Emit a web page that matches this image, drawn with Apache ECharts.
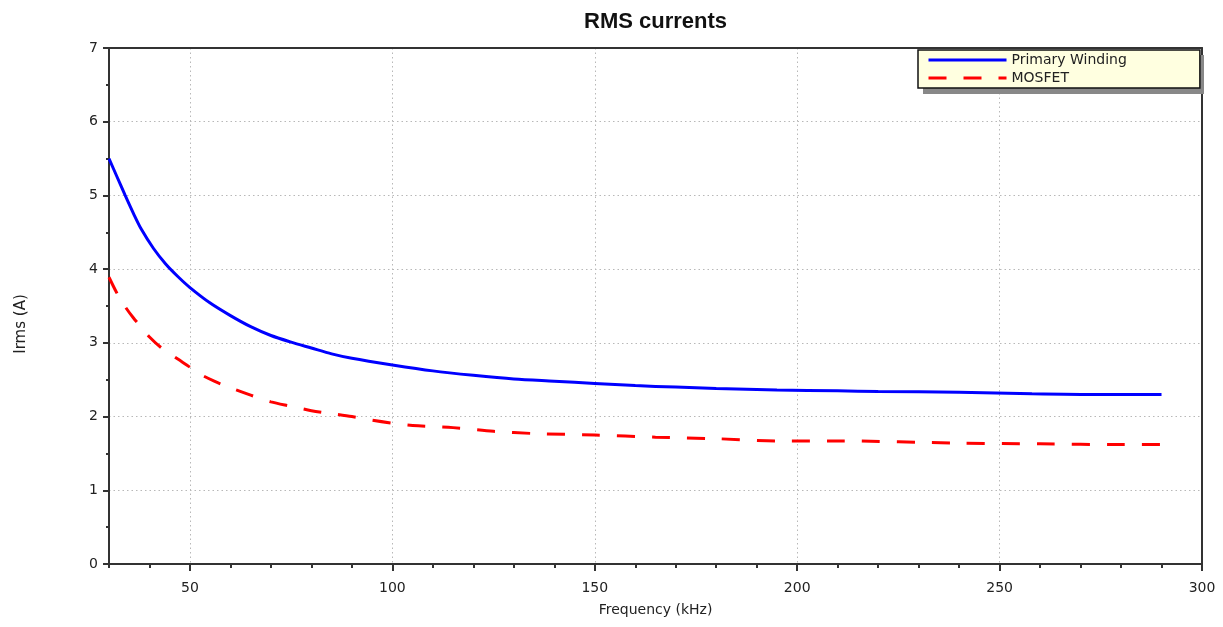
<!DOCTYPE html>
<html>
<head>
<meta charset="utf-8">
<script src="https://cdn.jsdelivr.net/npm/echarts@6/dist/echarts.min.js"></script>
<style>
html,body{margin:0;padding:0;background:#fff;}
#chart{width:1223px;height:627px;}
</style>
</head>
<body>
<div id="chart"></div>
<script>
const titleText = 'RMS currents';
const xName = 'Frequency (kHz)';
const yName = 'Irms (A)';
const xMajorTicks = [50, 100, 150, 200, 250, 300];

const primaryFreq = [30, 32, 34, 36, 38, 41, 44, 47, 50, 55, 60, 65, 70, 75, 80, 85, 90, 100, 110, 120, 130, 140, 150, 160, 170, 180, 195, 210, 220, 240, 258, 275, 290];
const primaryIrms = [5.50, 5.25, 5.00, 4.76, 4.54, 4.28, 4.07, 3.90, 3.75, 3.54, 3.37, 3.22, 3.10, 3.01, 2.93, 2.85, 2.79, 2.70, 2.62, 2.56, 2.51, 2.48, 2.45, 2.42, 2.40, 2.38, 2.36, 2.35, 2.34, 2.33, 2.31, 2.30, 2.30];

const mosfetFreq = [30, 32, 34, 36, 38, 40, 43, 47, 50, 52, 56, 60, 65, 70, 75, 80, 85, 90, 95, 100, 105, 115, 125, 135, 150, 165, 180, 195, 210, 240, 260, 280, 290];
const mosfetIrms = [3.89, 3.67, 3.49, 3.34, 3.21, 3.08, 2.93, 2.78, 2.67, 2.59, 2.48, 2.39, 2.29, 2.20, 2.14, 2.08, 2.04, 2.00, 1.95, 1.91, 1.88, 1.85, 1.80, 1.77, 1.75, 1.72, 1.70, 1.67, 1.67, 1.64, 1.63, 1.62, 1.62];

const pairs = (xs, ys) => xs.map((x, i) => [x, ys[i]]);

const axisColor = '#333';
const labelFont = 'DejaVu Sans';
const gridDots = { color: '#b8b8b8', width: 1, type: [1.5, 3] };

const chart = echarts.init(document.getElementById('chart'));
chart.setOption({
  animation: false,
  backgroundColor: '#ffffff',
  title: {
    text: titleText,
    left: 579,
    top: 6,
    textStyle: { fontFamily: 'Liberation Sans', fontWeight: 'bold', fontSize: 22, color: '#111' }
  },
  graphic: [
    {
      type: 'rect', left: 923, top: 55, z: 3, silent: true,
      shape: { width: 281, height: 39 },
      style: { fill: '#888' }
    }
  ],
  legend: {
    left: 918,
    top: 50,
    z: 4,
    orient: 'vertical',
    itemWidth: 78,
    itemHeight: 12,
    itemGap: 4,
    padding: [3, 73, 3, 9],
    backgroundColor: '#ffffe0',
    borderColor: '#111',
    borderWidth: 1.5,
    borderRadius: 0,
    lineStyle: { width: 3 },
    itemStyle: { color: 'transparent', borderColor: 'transparent', borderWidth: 0, opacity: 0 },
    textStyle: { fontFamily: labelFont, fontSize: 14, color: '#222' },
    data: ['Primary Winding', 'MOSFET']
  },
  grid: { left: 109, right: 21, top: 48, bottom: 63, containLabel: false },
  xAxis: [
    {
      type: 'value', min: 30, max: 300, interval: 10, position: 'bottom',
      axisLine: { show: true, onZero: false, lineStyle: { color: axisColor, width: 2 } },
      axisTick: { show: true, length: 4, lineStyle: { color: axisColor, width: 2 } },
      axisLabel: { show: false },
      splitLine: { show: false }
    },
    {
      type: 'value', min: 30, max: 300, position: 'bottom',
      name: xName, nameLocation: 'middle', nameGap: 39,
      nameTextStyle: { fontFamily: labelFont, fontSize: 14, color: '#222' },
      axisLine: { show: false, onZero: false },
      axisTick: { show: true, length: 7, customValues: xMajorTicks, lineStyle: { color: axisColor, width: 2 } },
      axisLabel: { show: true, customValues: xMajorTicks, margin: 17, fontFamily: labelFont, fontSize: 14, color: '#222' },
      splitLine: { show: true, lineStyle: gridDots }
    },
    {
      type: 'value', min: 30, max: 300, position: 'top',
      axisLine: { show: true, onZero: false, lineStyle: { color: axisColor, width: 2 } },
      axisTick: { show: false }, axisLabel: { show: false }, splitLine: { show: false }
    }
  ],
  yAxis: [
    {
      type: 'value', min: 0, max: 7, interval: 1, position: 'left',
      name: yName, nameLocation: 'middle', nameGap: 80, nameRotate: 90,
      nameTextStyle: { fontFamily: labelFont, fontSize: 15, color: '#222', padding: [0, 36, 0, 0] },
      axisLine: { show: true, onZero: false, lineStyle: { color: axisColor, width: 2 } },
      axisTick: { show: true, length: 6, lineStyle: { color: axisColor, width: 2 } },
      minorTick: { show: true, splitNumber: 2, length: 3, lineStyle: { color: axisColor, width: 2 } },
      axisLabel: { margin: 11, fontFamily: labelFont, fontSize: 14, color: '#222' },
      splitLine: { show: true, lineStyle: gridDots }
    },
    {
      type: 'value', min: 0, max: 7, position: 'right',
      axisLine: { show: true, onZero: false, lineStyle: { color: axisColor, width: 2 } },
      axisTick: { show: false }, axisLabel: { show: false }, splitLine: { show: false }
    }
  ],
  series: [
    {
      name: 'Primary Winding', type: 'line', xAxisIndex: 1, yAxisIndex: 0,
      data: pairs(primaryFreq, primaryIrms),
      showSymbol: false, symbol: 'none', smooth: 0.3,
      lineStyle: { color: '#0000ff', width: 3 },
      itemStyle: { color: '#0000ff' }
    },
    {
      name: 'MOSFET', type: 'line', xAxisIndex: 1, yAxisIndex: 0,
      data: pairs(mosfetFreq, mosfetIrms),
      showSymbol: false, symbol: 'none', smooth: 0.3,
      lineStyle: { color: '#ff0000', width: 3, type: [18, 17] },
      itemStyle: { color: '#ff0000' }
    }
  ]
});
</script>
</body>
</html>
